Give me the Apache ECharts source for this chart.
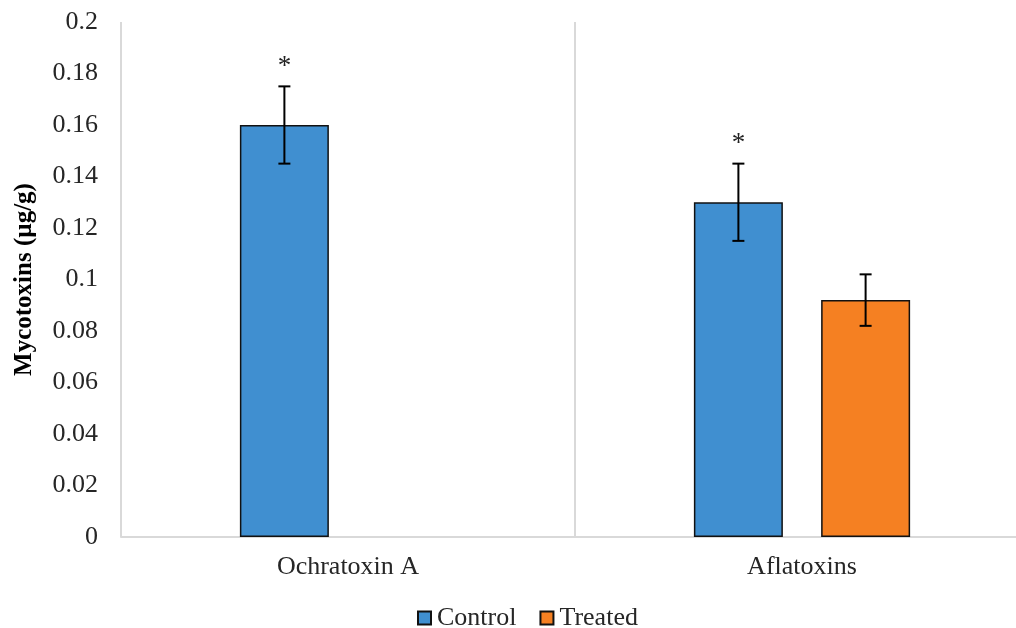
<!DOCTYPE html>
<html>
<head>
<meta charset="utf-8">
<script src="https://cdn.jsdelivr.net/npm/echarts@6/dist/echarts.min.js"></script>
<style>
  html, body { margin: 0; padding: 0; background: #fff; overflow: hidden; }
  #chart { width: 1016px; height: 628px; }
</style>
</head>
<body>
<div id="chart"></div>
<script>
  // values
  const categories = ['Ochratoxin A', 'Aflatoxins'];
  const controlValues = [0.16, 0.13];
  const controlErrors = [0.015, 0.015];
  const controlMarks = ['*', '*'];
  const treatedValues = ['-', 0.092];
  const treatedErrors = ['-', 0.01];
  const treatedMarks = ['', ''];
  const yMin = 0, yMax = 0.2, yStep = 0.02;

  const font = '"Liberation Serif", "Times New Roman", serif';
  const textColor = '#262626';

  // error bars (+ asterisk) drawn on top of the grouped bars
  function errorSeries(name, values, errors, marks, side) {
    const data = [];
    values.forEach((v, i) => {
      if (v === '-') return;
      data.push([i, v - errors[i], v + errors[i]]);
    });
    return {
      type: 'custom',
      name: name + ' error',
      z: 5,
      encode: { x: 0, y: [1, 2] },
      data: data,
      renderItem(params, api) {
        const i = api.value(0);
        const band = api.size([1, 0])[0];
        const dx = side * band * 0.1401;
        const lo = api.coord([i, api.value(1)]);
        const hi = api.coord([i, api.value(2)]);
        const x = lo[0] + dx;
        const cap = 6;
        const style = { stroke: '#000', lineWidth: 2 };
        const children = [
          { type: 'line', shape: { x1: x, y1: lo[1], x2: x, y2: hi[1] }, style },
          { type: 'line', shape: { x1: x - cap, y1: lo[1], x2: x + cap, y2: lo[1] }, style },
          { type: 'line', shape: { x1: x - cap, y1: hi[1], x2: x + cap, y2: hi[1] }, style }
        ];
        if (marks[i]) {
          children.push({
            type: 'text',
            style: {
              text: marks[i], x: x, y: hi[1] - 6,
              align: 'center', verticalAlign: 'bottom',
              font: '27px ' + font, fill: '#222'
            }
          });
        }
        return { type: 'group', children };
      }
    };
  }

  const chart = echarts.init(document.getElementById('chart'));
  const option = {
    backgroundColor: '#fff',
    animation: false,
    // plot area runs past the right edge of the picture, as in the source
    grid: { left: 121, width: 908, top: 22, bottom: 91, outerBoundsMode: 'none' },
    legend: {
      data: ['Control', 'Treated'],
      left: 412, top: 600,
      icon: 'rect', itemWidth: 13, itemHeight: 13, itemGap: 23,
      textStyle: { fontFamily: font, fontSize: 26, color: textColor, padding: [0, 0, 0, 1] }
    },
    xAxis: {
      type: 'category',
      data: categories,
      axisLine: { lineStyle: { color: '#d9d9d9', width: 2 } },
      axisTick: { show: false },
      splitLine: { show: true, lineStyle: { color: '#d9d9d9', width: 2 } },
      axisLabel: { fontFamily: font, fontSize: 26, color: textColor, margin: 17 }
    },
    yAxis: {
      type: 'value',
      min: yMin, max: yMax, interval: yStep,
      name: 'Mycotoxins (µg/g)',
      nameLocation: 'middle', nameGap: 84,
      nameTextStyle: { fontFamily: font, fontSize: 25, fontWeight: 'bold', color: '#000' },
      axisLine: { show: false },
      axisTick: { show: false },
      splitLine: { show: false },
      axisLabel: {
        fontFamily: font, fontSize: 26, color: textColor, margin: 23,
        formatter: v => String(+v.toFixed(2))
      }
    },
    series: [
      {
        name: 'Control', type: 'bar', data: controlValues,
        barWidth: '19.6%', barGap: '43%',
        itemStyle: { color: '#408fd0', borderColor: '#111', borderWidth: 1.5 }
      },
      {
        name: 'Treated', type: 'bar', data: treatedValues,
        barWidth: '19.6%', barGap: '43%',
        itemStyle: { color: '#f58022', borderColor: '#111', borderWidth: 1.5 }
      },
      errorSeries('Control', controlValues, controlErrors, controlMarks, -1),
      errorSeries('Treated', treatedValues, treatedErrors, treatedMarks, 1)
    ]
  };
  chart.setOption(option);
</script>
</body>
</html>
